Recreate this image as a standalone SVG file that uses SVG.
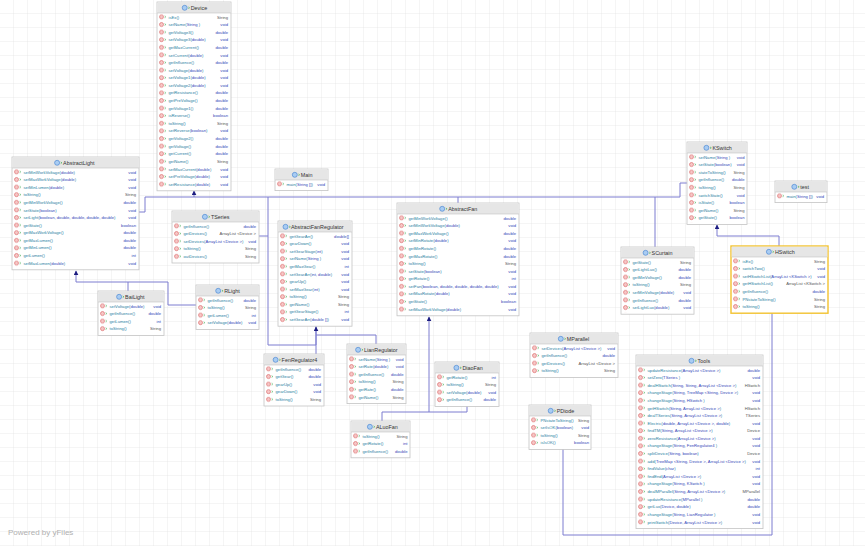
<svg xmlns="http://www.w3.org/2000/svg" width="865" height="546" viewBox="0 0 865 546">
<style>
.box{fill:#fff;stroke:#c4c4c4;stroke-width:0.8}
.hdr{fill:#e6e6e6}
.sep{stroke:#c4c4c4;stroke-width:0.6}
.ti{font-family:"Liberation Sans",Arial,sans-serif;font-size:5.4px;fill:#333}
.m{font-family:"Liberation Sans",Arial,sans-serif;font-size:4.2px;fill:#2a80a2}
.p{fill:#3548b8}
.r{font-family:"Liberation Sans",Arial,sans-serif;font-size:4.2px;fill:#3548b8;text-anchor:end}
.s{fill:#555}
.e{fill:none;stroke:#7c7cd0;stroke-width:1}
.a{fill:none;stroke:#7c7cd0;stroke-width:1;marker-end:url(#arr)}
</style>
<defs>
<pattern id="grid" width="14" height="14" patternUnits="userSpaceOnUse">
<path d="M14 0V14M0 14H14" fill="none" stroke="#e4e4e4" stroke-width="0.7"/>
</pattern>
<pattern id="ic" width="12" height="7.6" patternUnits="userSpaceOnUse" patternTransform="translate(0,11.5)">
<circle cx="4.5" cy="3.4" r="2" fill="#f6c6c6" stroke="#d85c5c" stroke-width="0.6"/>
<path d="M7.6 2.6l1.3 0.8l-1.3 0.8" fill="none" stroke="#3aa84a" stroke-width="0.6"/>
</pattern>
<g id="ci"><circle r="2.5" fill="#a9ccf2" stroke="#3d7dd0" stroke-width="0.6"/><path d="M3.6 -0.8l1.3 0.8l-1.3 0.8" fill="none" stroke="#3aa84a" stroke-width="0.6"/></g>
<marker id="arr" viewBox="0 0 8 8" refX="7" refY="4" markerWidth="5" markerHeight="5" orient="auto" markerUnits="userSpaceOnUse">
<path d="M0 0L8 4L0 8z" fill="#1c1c80"/>
</marker>
</defs>
<rect width="865" height="546" fill="#fff"/>
<rect width="865" height="546" fill="url(#grid)"/>

<g id="connectors">
<path class="a" d="M194 197V191"/>
<path class="e" d="M139 212H145V197H655V247"/>
<path class="e" d="M259 236H268V197"/>
<path class="e" d="M316 326V345H268V236"/>
<path class="e" d="M458 203V197"/>
<path class="e" d="M687 183H680V197H655"/>
<path class="a" d="M128 291V282H76V271"/>
<path class="e" d="M196 305H168V282H128"/>
<path class="a" d="M316 354V327"/>
<path class="e" d="M376 344V335H316"/>
<path class="a" d="M382 421V412H429V317"/>
<path class="e" d="M467 406V412H429"/>
<path class="a" d="M779 246V236H717V225"/>
<path class="e" d="M563 449V535H772V313"/>
</g>

<g id="Device" transform="translate(157,2)">
<rect class="box" width="74" height="188.8"/><rect class="hdr" x="0.4" y="0.4" width="73.2" height="10.6"/><line class="sep" x1="0" y1="11" x2="74" y2="11"/>
<use href="#ci" x="27.7" y="5.8"/><text class="ti" x="33.7" y="7.6">Device</text>
<rect x="2" y="12" width="10" height="174.8" fill="url(#ic)"/>
<text class="m"><tspan x="11.5" y="16.5">isEx()</tspan><tspan x="11.5" dy="7.6">setName(<tspan class="p">String</tspan> )</tspan><tspan x="11.5" dy="7.6">getVoltage3()</tspan><tspan x="11.5" dy="7.6">setVoltage3(<tspan class="p">double</tspan>)</tspan><tspan x="11.5" dy="7.6">getMaxCurrent()</tspan><tspan x="11.5" dy="7.6">setCurrent(<tspan class="p">double</tspan>)</tspan><tspan x="11.5" dy="7.6">getInfluence()</tspan><tspan x="11.5" dy="7.6">setVoltage(<tspan class="p">double</tspan>)</tspan><tspan x="11.5" dy="7.6">setVoltage1(<tspan class="p">double</tspan>)</tspan><tspan x="11.5" dy="7.6">setVoltage2(<tspan class="p">double</tspan>)</tspan><tspan x="11.5" dy="7.6">getResistance()</tspan><tspan x="11.5" dy="7.6">getPreVoltage()</tspan><tspan x="11.5" dy="7.6">getVoltage1()</tspan><tspan x="11.5" dy="7.6">isReverse()</tspan><tspan x="11.5" dy="7.6">toString()</tspan><tspan x="11.5" dy="7.6">setReverse(<tspan class="p">boolean</tspan>)</tspan><tspan x="11.5" dy="7.6">getVoltage2()</tspan><tspan x="11.5" dy="7.6">getVoltage()</tspan><tspan x="11.5" dy="7.6">getCurrent()</tspan><tspan x="11.5" dy="7.6">getName()</tspan><tspan x="11.5" dy="7.6">setMaxCurrent(<tspan class="p">double</tspan>)</tspan><tspan x="11.5" dy="7.6">setPreVoltage(<tspan class="p">double</tspan>)</tspan><tspan x="11.5" dy="7.6">setResistance(<tspan class="p">double</tspan>)</tspan></text>
<text class="r"><tspan class="s" x="71" y="16.5">String</tspan><tspan x="71" dy="7.6">void</tspan><tspan x="71" dy="7.6">double</tspan><tspan x="71" dy="7.6">void</tspan><tspan x="71" dy="7.6">double</tspan><tspan x="71" dy="7.6">void</tspan><tspan x="71" dy="7.6">double</tspan><tspan x="71" dy="7.6">void</tspan><tspan x="71" dy="7.6">void</tspan><tspan x="71" dy="7.6">void</tspan><tspan x="71" dy="7.6">double</tspan><tspan x="71" dy="7.6">double</tspan><tspan x="71" dy="7.6">double</tspan><tspan x="71" dy="7.6">boolean</tspan><tspan class="s" x="71" dy="7.6">String</tspan><tspan x="71" dy="7.6">void</tspan><tspan x="71" dy="7.6">double</tspan><tspan x="71" dy="7.6">double</tspan><tspan x="71" dy="7.6">double</tspan><tspan class="s" x="71" dy="7.6">String</tspan><tspan x="71" dy="7.6">void</tspan><tspan x="71" dy="7.6">void</tspan><tspan x="71" dy="7.6">void</tspan></text>
</g>

<g id="AbstractLight" transform="translate(12,157)">
<rect class="box" width="127" height="112.8"/><rect class="hdr" x="0.4" y="0.4" width="126.2" height="10.6"/><line class="sep" x1="0" y1="11" x2="127" y2="11"/>
<use href="#ci" x="45.1" y="5.8"/><text class="ti" x="51.1" y="7.6">AbstractLight</text>
<rect x="2" y="12" width="10" height="98.8" fill="url(#ic)"/>
<text class="m"><tspan x="11.5" y="16.5">setMinWorkVoltage(<tspan class="p">double</tspan>)</tspan><tspan x="11.5" dy="7.6">setMaxWorkVoltage(<tspan class="p">double</tspan>)</tspan><tspan x="11.5" dy="7.6">setMinLumen(<tspan class="p">double</tspan>)</tspan><tspan x="11.5" dy="7.6">toString()</tspan><tspan x="11.5" dy="7.6">getMinWorkVoltage()</tspan><tspan x="11.5" dy="7.6">setState(<tspan class="p">boolean</tspan>)</tspan><tspan x="11.5" dy="7.6">setLight(<tspan class="p">boolean, double, double, double, double</tspan>)</tspan><tspan x="11.5" dy="7.6">getState()</tspan><tspan x="11.5" dy="7.6">getMaxWorkVoltage()</tspan><tspan x="11.5" dy="7.6">getMaxLumen()</tspan><tspan x="11.5" dy="7.6">getMinLumen()</tspan><tspan x="11.5" dy="7.6">getLumen()</tspan><tspan x="11.5" dy="7.6">setMaxLumen(<tspan class="p">double</tspan>)</tspan></text>
<text class="r"><tspan x="124" y="16.5">void</tspan><tspan x="124" dy="7.6">void</tspan><tspan x="124" dy="7.6">void</tspan><tspan class="s" x="124" dy="7.6">String</tspan><tspan x="124" dy="7.6">double</tspan><tspan x="124" dy="7.6">void</tspan><tspan x="124" dy="7.6">void</tspan><tspan x="124" dy="7.6">boolean</tspan><tspan x="124" dy="7.6">double</tspan><tspan x="124" dy="7.6">double</tspan><tspan x="124" dy="7.6">double</tspan><tspan x="124" dy="7.6">int</tspan><tspan x="124" dy="7.6">void</tspan></text>
</g>

<g id="Main" transform="translate(275,169)">
<rect class="box" width="53" height="21.6"/><rect class="hdr" x="0.4" y="0.4" width="52.2" height="10.6"/><line class="sep" x1="0" y1="11" x2="53" y2="11"/>
<use href="#ci" x="19.8" y="5.8"/><text class="ti" x="25.8" y="7.6">Main</text>
<rect x="2" y="12" width="10" height="7.6" fill="url(#ic)"/>
<text class="m"><tspan x="11.5" y="16.5">main(<tspan class="p">String []</tspan>)</tspan></text>
<text class="r"><tspan x="50" y="16.5">void</tspan></text>
</g>

<g id="TSeries" transform="translate(172,211)">
<rect class="box" width="87" height="52"/><rect class="hdr" x="0.4" y="0.4" width="86.2" height="10.6"/><line class="sep" x1="0" y1="11" x2="87" y2="11"/>
<use href="#ci" x="32.9" y="5.8"/><text class="ti" x="38.9" y="7.6">TSeries</text>
<rect x="2" y="12" width="10" height="38" fill="url(#ic)"/>
<text class="m"><tspan x="11.5" y="16.5">getInfluence()</tspan><tspan x="11.5" dy="7.6">getDevices()</tspan><tspan x="11.5" dy="7.6">setDevices(<tspan class="p">ArrayList &lt;Device &gt;</tspan>)</tspan><tspan x="11.5" dy="7.6">toString()</tspan><tspan x="11.5" dy="7.6">outDevices()</tspan></text>
<text class="r"><tspan x="84" y="16.5">double</tspan><tspan class="s" x="84" dy="7.6">ArrayList &lt;Device &gt;</tspan><tspan x="84" dy="7.6">void</tspan><tspan class="s" x="84" dy="7.6">String</tspan><tspan class="s" x="84" dy="7.6">String</tspan></text>
</g>

<g id="AbstractFanRegulator" transform="translate(278,221)">
<rect class="box" width="74" height="105.2"/><rect class="hdr" x="0.4" y="0.4" width="73.2" height="10.6"/><line class="sep" x1="0" y1="11" x2="74" y2="11"/>
<use href="#ci" x="7.5" y="5.8"/><text class="ti" x="13" y="7.6">AbstractFanRegulator</text>
<rect x="2" y="12" width="10" height="91.2" fill="url(#ic)"/>
<text class="m"><tspan x="11.5" y="16.5">getGearArr()</tspan><tspan x="11.5" dy="7.6">gearDown()</tspan><tspan x="11.5" dy="7.6">setGearStage(<tspan class="p">int</tspan>)</tspan><tspan x="11.5" dy="7.6">setName(<tspan class="p">String</tspan> )</tspan><tspan x="11.5" dy="7.6">getMaxGear()</tspan><tspan x="11.5" dy="7.6">setGearArr(<tspan class="p">int, double</tspan>)</tspan><tspan x="11.5" dy="7.6">gearUp()</tspan><tspan x="11.5" dy="7.6">setMaxGear(<tspan class="p">int</tspan>)</tspan><tspan x="11.5" dy="7.6">toString()</tspan><tspan x="11.5" dy="7.6">getName()</tspan><tspan x="11.5" dy="7.6">getGearStage()</tspan><tspan x="11.5" dy="7.6">setGearArr(<tspan class="p">double []</tspan>)</tspan></text>
<text class="r"><tspan x="71" y="16.5">double[]</tspan><tspan x="71" dy="7.6">void</tspan><tspan x="71" dy="7.6">void</tspan><tspan x="71" dy="7.6">void</tspan><tspan x="71" dy="7.6">int</tspan><tspan x="71" dy="7.6">void</tspan><tspan x="71" dy="7.6">void</tspan><tspan x="71" dy="7.6">void</tspan><tspan class="s" x="71" dy="7.6">String</tspan><tspan class="s" x="71" dy="7.6">String</tspan><tspan x="71" dy="7.6">int</tspan><tspan x="71" dy="7.6">void</tspan></text>
</g>

<g id="AbstractFan" transform="translate(397,203)">
<rect class="box" width="122" height="112.8"/><rect class="hdr" x="0.4" y="0.4" width="121.2" height="10.6"/><line class="sep" x1="0" y1="11" x2="122" y2="11"/>
<use href="#ci" x="45.2" y="5.8"/><text class="ti" x="51.2" y="7.6">AbstractFan</text>
<rect x="2" y="12" width="10" height="98.8" fill="url(#ic)"/>
<text class="m"><tspan x="11.5" y="16.5">getMinWorkVoltage()</tspan><tspan x="11.5" dy="7.6">setMinWorkVoltage(<tspan class="p">double</tspan>)</tspan><tspan x="11.5" dy="7.6">getMaxWorkVoltage()</tspan><tspan x="11.5" dy="7.6">setMinRotate(<tspan class="p">double</tspan>)</tspan><tspan x="11.5" dy="7.6">getMinRotate()</tspan><tspan x="11.5" dy="7.6">getMaxRotate()</tspan><tspan x="11.5" dy="7.6">toString()</tspan><tspan x="11.5" dy="7.6">setState(<tspan class="p">boolean</tspan>)</tspan><tspan x="11.5" dy="7.6">getRotate()</tspan><tspan x="11.5" dy="7.6">setFan(<tspan class="p">boolean, double, double, double, double</tspan>)</tspan><tspan x="11.5" dy="7.6">setMaxRotate(<tspan class="p">double</tspan>)</tspan><tspan x="11.5" dy="7.6">getState()</tspan><tspan x="11.5" dy="7.6">setMaxWorkVoltage(<tspan class="p">double</tspan>)</tspan></text>
<text class="r"><tspan x="119" y="16.5">double</tspan><tspan x="119" dy="7.6">void</tspan><tspan x="119" dy="7.6">double</tspan><tspan x="119" dy="7.6">void</tspan><tspan x="119" dy="7.6">double</tspan><tspan x="119" dy="7.6">double</tspan><tspan class="s" x="119" dy="7.6">String</tspan><tspan x="119" dy="7.6">void</tspan><tspan x="119" dy="7.6">int</tspan><tspan x="119" dy="7.6">void</tspan><tspan x="119" dy="7.6">void</tspan><tspan x="119" dy="7.6">boolean</tspan><tspan x="119" dy="7.6">void</tspan></text>
</g>

<g id="KSwitch" transform="translate(687,142)">
<rect class="box" width="60" height="82.4"/><rect class="hdr" x="0.4" y="0.4" width="59.2" height="10.6"/><line class="sep" x1="0" y1="11" x2="60" y2="11"/>
<use href="#ci" x="19.4" y="5.8"/><text class="ti" x="25.4" y="7.6">KSwitch</text>
<rect x="2" y="12" width="10" height="68.4" fill="url(#ic)"/>
<text class="m"><tspan x="11.5" y="16.5">setName(<tspan class="p">String</tspan> )</tspan><tspan x="11.5" dy="7.6">setState(<tspan class="p">boolean</tspan>)</tspan><tspan x="11.5" dy="7.6">stateToString()</tspan><tspan x="11.5" dy="7.6">getInfluence()</tspan><tspan x="11.5" dy="7.6">toString()</tspan><tspan x="11.5" dy="7.6">switchState()</tspan><tspan x="11.5" dy="7.6">isState()</tspan><tspan x="11.5" dy="7.6">getName()</tspan><tspan x="11.5" dy="7.6">getState()</tspan></text>
<text class="r"><tspan x="57.5" y="16.5">void</tspan><tspan x="57.5" dy="7.6">void</tspan><tspan class="s" x="57.5" dy="7.6">String</tspan><tspan x="57.5" dy="7.6">double</tspan><tspan class="s" x="57.5" dy="7.6">String</tspan><tspan x="57.5" dy="7.6">void</tspan><tspan x="57.5" dy="7.6">boolean</tspan><tspan class="s" x="57.5" dy="7.6">String</tspan><tspan x="57.5" dy="7.6">boolean</tspan></text>
</g>

<g id="test" transform="translate(775,181)">
<rect class="box" width="52" height="21.6"/><rect class="hdr" x="0.4" y="0.4" width="51.2" height="10.6"/><line class="sep" x1="0" y1="11" x2="52" y2="11"/>
<use href="#ci" x="19.3" y="5.8"/><text class="ti" x="25.3" y="7.6">test</text>
<rect x="2" y="12" width="10" height="7.6" fill="url(#ic)"/>
<text class="m"><tspan x="11.5" y="16.5">main(<tspan class="p">String []</tspan>)</tspan></text>
<text class="r"><tspan x="49" y="16.5">void</tspan></text>
</g>

<g id="SCurtain" transform="translate(621,247)">
<rect class="box" width="73" height="67.2"/><rect class="hdr" x="0.4" y="0.4" width="72.2" height="10.6"/><line class="sep" x1="0" y1="11" x2="73" y2="11"/>
<use href="#ci" x="24.6" y="5.8"/><text class="ti" x="30.6" y="7.6">SCurtain</text>
<rect x="2" y="12" width="10" height="53.2" fill="url(#ic)"/>
<text class="m"><tspan x="11.5" y="16.5">getState()</tspan><tspan x="11.5" dy="7.6">getLightLux()</tspan><tspan x="11.5" dy="7.6">getMinVoltage()</tspan><tspan x="11.5" dy="7.6">toString()</tspan><tspan x="11.5" dy="7.6">setMinVoltage(<tspan class="p">double</tspan>)</tspan><tspan x="11.5" dy="7.6">getInfluence()</tspan><tspan x="11.5" dy="7.6">setLightLux(<tspan class="p">double</tspan>)</tspan></text>
<text class="r"><tspan class="s" x="70" y="16.5">String</tspan><tspan x="70" dy="7.6">double</tspan><tspan x="70" dy="7.6">double</tspan><tspan class="s" x="70" dy="7.6">String</tspan><tspan x="70" dy="7.6">void</tspan><tspan x="70" dy="7.6">double</tspan><tspan x="70" dy="7.6">void</tspan></text>
</g>

<g id="HSwitch" transform="translate(731,246)">
<rect class="box" width="97" height="67.2" style="stroke:#f2c230;stroke-width:1.4"/><rect class="hdr" x="0.7" y="0.7" width="95.6" height="10.3"/><line class="sep" x1="0.7" y1="11" x2="96.3" y2="11"/>
<use href="#ci" x="37.9" y="5.8"/><text class="ti" x="43.9" y="7.6">HSwitch</text>
<rect x="2" y="12" width="10" height="53.2" fill="url(#ic)"/>
<text class="m"><tspan x="11.5" y="16.5">isEx()</tspan><tspan x="11.5" dy="7.6">switchTwo()</tspan><tspan x="11.5" dy="7.6">setHSwitchList(<tspan class="p">ArrayList &lt;KSwitch &gt;</tspan>)</tspan><tspan x="11.5" dy="7.6">getHSwitchList()</tspan><tspan x="11.5" dy="7.6">getInfluence()</tspan><tspan x="11.5" dy="7.6">PNstateToString()</tspan><tspan x="11.5" dy="7.6">toString()</tspan></text>
<text class="r"><tspan class="s" x="94" y="16.5">String</tspan><tspan x="94" dy="7.6">void</tspan><tspan x="94" dy="7.6">void</tspan><tspan class="s" x="94" dy="7.6">ArrayList &lt;KSwitch &gt;</tspan><tspan x="94" dy="7.6">double</tspan><tspan class="s" x="94" dy="7.6">String</tspan><tspan class="s" x="94" dy="7.6">String</tspan></text>
</g>

<g id="BaiLight" transform="translate(98,291)">
<rect class="box" width="66" height="44.4"/><rect class="hdr" x="0.4" y="0.4" width="65.2" height="10.6"/><line class="sep" x1="0" y1="11" x2="66" y2="11"/>
<use href="#ci" x="21.1" y="5.8"/><text class="ti" x="27.1" y="7.6">BaiLight</text>
<rect x="2" y="12" width="10" height="30.4" fill="url(#ic)"/>
<text class="m"><tspan x="11.5" y="16.5">setVoltage(<tspan class="p">double</tspan>)</tspan><tspan x="11.5" dy="7.6">getInfluence()</tspan><tspan x="11.5" dy="7.6">getLumen()</tspan><tspan x="11.5" dy="7.6">toString()</tspan></text>
<text class="r"><tspan x="63" y="16.5">void</tspan><tspan x="63" dy="7.6">double</tspan><tspan x="63" dy="7.6">int</tspan><tspan class="s" x="63" dy="7.6">String</tspan></text>
</g>

<g id="RLight" transform="translate(196,285)">
<rect class="box" width="63" height="44.4"/><rect class="hdr" x="0.4" y="0.4" width="62.2" height="10.6"/><line class="sep" x1="0" y1="11" x2="63" y2="11"/>
<use href="#ci" x="22.2" y="5.8"/><text class="ti" x="28.2" y="7.6">RLight</text>
<rect x="2" y="12" width="10" height="30.4" fill="url(#ic)"/>
<text class="m"><tspan x="11.5" y="16.5">getInfluence()</tspan><tspan x="11.5" dy="7.6">toString()</tspan><tspan x="11.5" dy="7.6">getLumen()</tspan><tspan x="11.5" dy="7.6">setVoltage(<tspan class="p">double</tspan>)</tspan></text>
<text class="r"><tspan x="60" y="16.5">double</tspan><tspan class="s" x="60" dy="7.6">String</tspan><tspan x="60" dy="7.6">int</tspan><tspan x="60" dy="7.6">void</tspan></text>
</g>

<g id="FenRegulator4" transform="translate(264,354)">
<rect class="box" width="60" height="52"/><rect class="hdr" x="0.4" y="0.4" width="59.2" height="10.6"/><line class="sep" x1="0" y1="11" x2="60" y2="11"/>
<use href="#ci" x="11.6" y="5.8"/><text class="ti" x="17.6" y="7.6">FenRegulator4</text>
<rect x="2" y="12" width="10" height="38" fill="url(#ic)"/>
<text class="m"><tspan x="11.5" y="16.5">getInfluence()</tspan><tspan x="11.5" dy="7.6">getGear()</tspan><tspan x="11.5" dy="7.6">gearUp()</tspan><tspan x="11.5" dy="7.6">gearDown()</tspan><tspan x="11.5" dy="7.6">toString()</tspan></text>
<text class="r"><tspan x="57" y="16.5">double</tspan><tspan x="57" dy="7.6">double</tspan><tspan x="57" dy="7.6">void</tspan><tspan x="57" dy="7.6">void</tspan><tspan class="s" x="57" dy="7.6">String</tspan></text>
</g>

<g id="LianRegulator" transform="translate(347,344)">
<rect class="box" width="59" height="59.6"/><rect class="hdr" x="0.4" y="0.4" width="58.2" height="10.6"/><line class="sep" x1="0" y1="11" x2="59" y2="11"/>
<use href="#ci" x="11.1" y="5.8"/><text class="ti" x="17.1" y="7.6">LianRegulator</text>
<rect x="2" y="12" width="10" height="45.6" fill="url(#ic)"/>
<text class="m"><tspan x="11.5" y="16.5">setName(<tspan class="p">String</tspan> )</tspan><tspan x="11.5" dy="7.6">setRate(<tspan class="p">double</tspan>)</tspan><tspan x="11.5" dy="7.6">getInfluence()</tspan><tspan x="11.5" dy="7.6">toString()</tspan><tspan x="11.5" dy="7.6">getRate()</tspan><tspan x="11.5" dy="7.6">getName()</tspan></text>
<text class="r"><tspan x="56.5" y="16.5">void</tspan><tspan x="56.5" dy="7.6">void</tspan><tspan x="56.5" dy="7.6">double</tspan><tspan class="s" x="56.5" dy="7.6">String</tspan><tspan x="56.5" dy="7.6">double</tspan><tspan class="s" x="56.5" dy="7.6">String</tspan></text>
</g>

<g id="ALuoFan" transform="translate(351,421)">
<rect class="box" width="59" height="36.8"/><rect class="hdr" x="0.4" y="0.4" width="58.2" height="10.6"/><line class="sep" x1="0" y1="11" x2="59" y2="11"/>
<use href="#ci" x="18.9" y="5.8"/><text class="ti" x="24.9" y="7.6">ALuoFan</text>
<rect x="2" y="12" width="10" height="22.8" fill="url(#ic)"/>
<text class="m"><tspan x="11.5" y="16.5">toString()</tspan><tspan x="11.5" dy="7.6">getRotate()</tspan><tspan x="11.5" dy="7.6">getInfluence()</tspan></text>
<text class="r"><tspan class="s" x="56.5" y="16.5">String</tspan><tspan x="56.5" dy="7.6">int</tspan><tspan x="56.5" dy="7.6">double</tspan></text>
</g>

<g id="DiaoFan" transform="translate(435,362)">
<rect class="box" width="64" height="44.4"/><rect class="hdr" x="0.4" y="0.4" width="63.2" height="10.6"/><line class="sep" x1="0" y1="11" x2="64" y2="11"/>
<use href="#ci" x="21.4" y="5.8"/><text class="ti" x="27.4" y="7.6">DiaoFan</text>
<rect x="2" y="12" width="10" height="30.4" fill="url(#ic)"/>
<text class="m"><tspan x="11.5" y="16.5">getRotate()</tspan><tspan x="11.5" dy="7.6">toString()</tspan><tspan x="11.5" dy="7.6">setVoltage(<tspan class="p">double</tspan>)</tspan><tspan x="11.5" dy="7.6">getInfluence()</tspan></text>
<text class="r"><tspan x="61" y="16.5">int</tspan><tspan class="s" x="61" dy="7.6">String</tspan><tspan x="61" dy="7.6">void</tspan><tspan x="61" dy="7.6">double</tspan></text>
</g>

<g id="MParallel" transform="translate(530,333)">
<rect class="box" width="88" height="44.4"/><rect class="hdr" x="0.4" y="0.4" width="87.2" height="10.6"/><line class="sep" x1="0" y1="11" x2="88" y2="11"/>
<use href="#ci" x="30.8" y="5.8"/><text class="ti" x="36.8" y="7.6">MParallel</text>
<rect x="2" y="12" width="10" height="30.4" fill="url(#ic)"/>
<text class="m"><tspan x="11.5" y="16.5">setDevices(<tspan class="p">ArrayList &lt;Device &gt;</tspan>)</tspan><tspan x="11.5" dy="7.6">getInfluence()</tspan><tspan x="11.5" dy="7.6">getDevices()</tspan><tspan x="11.5" dy="7.6">toString()</tspan></text>
<text class="r"><tspan x="85" y="16.5">void</tspan><tspan x="85" dy="7.6">double</tspan><tspan class="s" x="85" dy="7.6">ArrayList &lt;Device &gt;</tspan><tspan class="s" x="85" dy="7.6">String</tspan></text>
</g>

<g id="PDiode" transform="translate(529,405)">
<rect class="box" width="62" height="44.4"/><rect class="hdr" x="0.4" y="0.4" width="61.2" height="10.6"/><line class="sep" x1="0" y1="11" x2="62" y2="11"/>
<use href="#ci" x="21.7" y="5.8"/><text class="ti" x="27.7" y="7.6">PDiode</text>
<rect x="2" y="12" width="10" height="30.4" fill="url(#ic)"/>
<text class="m"><tspan x="11.5" y="16.5">PNstateToString()</tspan><tspan x="11.5" dy="7.6">setIsOK(<tspan class="p">boolean</tspan>)</tspan><tspan x="11.5" dy="7.6">toString()</tspan><tspan x="11.5" dy="7.6">isIsOK()</tspan></text>
<text class="r"><tspan class="s" x="60" y="16.5">String</tspan><tspan x="60" dy="7.6">void</tspan><tspan class="s" x="60" dy="7.6">String</tspan><tspan x="60" dy="7.6">boolean</tspan></text>
</g>

<g id="Tools" transform="translate(636,355)">
<rect class="box" width="127" height="173.6"/><rect class="hdr" x="0.4" y="0.4" width="126.2" height="10.6"/><line class="sep" x1="0" y1="11" x2="127" y2="11"/>
<use href="#ci" x="55.5" y="5.8"/><text class="ti" x="61.5" y="7.6">Tools</text>
<rect x="2" y="12" width="10" height="159.6" fill="url(#ic)"/>
<text class="m"><tspan x="11.5" y="16.5">updateResistance(<tspan class="p">ArrayList &lt;Device &gt;</tspan>)</tspan><tspan x="11.5" dy="7.6">setZero(<tspan class="p">TSeries</tspan> )</tspan><tspan x="11.5" dy="7.6">dealHSwitch(<tspan class="p">String, String, ArrayList &lt;Device &gt;</tspan>)</tspan><tspan x="11.5" dy="7.6">changeStage(<tspan class="p">String, TreeMap &lt;String, Device &gt;</tspan>)</tspan><tspan x="11.5" dy="7.6">changeStage(<tspan class="p">String, HSwitch</tspan> )</tspan><tspan x="11.5" dy="7.6">getHSwitch(<tspan class="p">String, ArrayList &lt;Device &gt;</tspan>)</tspan><tspan x="11.5" dy="7.6">dealTSeries(<tspan class="p">String, ArrayList &lt;Device &gt;</tspan>)</tspan><tspan x="11.5" dy="7.6">Electric(<tspan class="p">double, ArrayList &lt;Device &gt;, double</tspan>)</tspan><tspan x="11.5" dy="7.6">findTM(<tspan class="p">String, ArrayList &lt;Device &gt;</tspan>)</tspan><tspan x="11.5" dy="7.6">zeroResistance(<tspan class="p">ArrayList &lt;Device &gt;</tspan>)</tspan><tspan x="11.5" dy="7.6">changeStage(<tspan class="p">String, FenRegulator4</tspan> )</tspan><tspan x="11.5" dy="7.6">splitDevice(<tspan class="p">String, boolean</tspan>)</tspan><tspan x="11.5" dy="7.6">add(<tspan class="p">TreeMap &lt;String, Device &gt;, ArrayList &lt;Device &gt;</tspan>)</tspan><tspan x="11.5" dy="7.6">findValue(<tspan class="p">char</tspan>)</tspan><tspan x="11.5" dy="7.6">findEnd(<tspan class="p">ArrayList &lt;Device &gt;</tspan>)</tspan><tspan x="11.5" dy="7.6">changeStage(<tspan class="p">String, KSwitch</tspan> )</tspan><tspan x="11.5" dy="7.6">dealMParallel(<tspan class="p">String, ArrayList &lt;Device &gt;</tspan>)</tspan><tspan x="11.5" dy="7.6">updateResistance(<tspan class="p">MParallel</tspan> )</tspan><tspan x="11.5" dy="7.6">getLux(<tspan class="p">Device, double</tspan>)</tspan><tspan x="11.5" dy="7.6">changeStage(<tspan class="p">String, LianRegulator</tspan> )</tspan><tspan x="11.5" dy="7.6">printSwitch(<tspan class="p">Device, ArrayList &lt;Device &gt;</tspan>)</tspan></text>
<text class="r"><tspan x="124" y="16.5">double</tspan><tspan x="124" dy="7.6">void</tspan><tspan class="s" x="124" dy="7.6">HSwitch</tspan><tspan x="124" dy="7.6">void</tspan><tspan x="124" dy="7.6">void</tspan><tspan class="s" x="124" dy="7.6">HSwitch</tspan><tspan class="s" x="124" dy="7.6">TSeries</tspan><tspan x="124" dy="7.6">void</tspan><tspan class="s" x="124" dy="7.6">Device</tspan><tspan x="124" dy="7.6">void</tspan><tspan x="124" dy="7.6">void</tspan><tspan class="s" x="124" dy="7.6">Device</tspan><tspan x="124" dy="7.6">void</tspan><tspan x="124" dy="7.6">int</tspan><tspan x="124" dy="7.6">void</tspan><tspan x="124" dy="7.6">void</tspan><tspan class="s" x="124" dy="7.6">MParallel</tspan><tspan x="124" dy="7.6">double</tspan><tspan x="124" dy="7.6">double</tspan><tspan x="124" dy="7.6">void</tspan><tspan x="124" dy="7.6">void</tspan></text>
</g>

<text x="8" y="535" style="font-family:'Liberation Sans',Arial,sans-serif;font-size:8px;fill:#b0b0b0">Powered by yFiles</text>
</svg>
